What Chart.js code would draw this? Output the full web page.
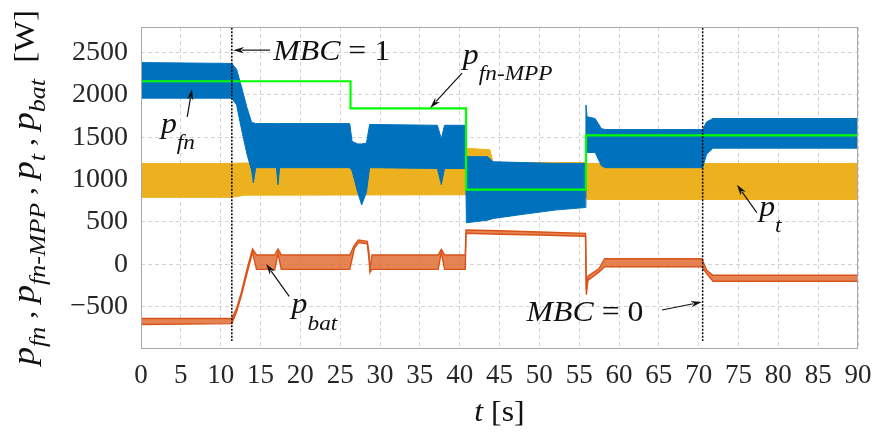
<!DOCTYPE html>
<html>
<head>
<meta charset="utf-8">
<script src="https://cdn.jsdelivr.net/npm/chart.js@4.4.1/dist/chart.umd.min.js"></script>
<style>
  html, body { margin: 0; padding: 0; background: #fff; }
  #wrap { width: 877px; height: 432px; }
</style>
</head>
<body>
<div id="wrap"><canvas id="powerChart"></canvas></div>
<script>
// axis ticks
const xTicks = [0, 5, 10, 15, 20, 25, 30, 35, 40, 45, 50, 55, 60, 65, 70, 75, 80, 85, 90];
const yTicks = [-500, 0, 500, 1000, 1500, 2000, 2500];

// p_fn (blue band, upper / lower envelope)
const fnTime  = [0, 11.4, 12.0, 12.6, 13.3, 13.9, 14.1, 14.4, 17.0, 17.2, 17.4, 26.2, 26.5, 27.2, 27.7, 28.3, 28.7, 37.2, 37.7, 38.1, 40.75, 40.85, 43.5, 44.2, 48, 52, 55.8, 55.85, 56.0, 57.0, 57.8, 58.3, 70.5, 71.0, 71.8, 90];
const fnUpper = [2380, 2370, 2300, 2100, 1850, 1670, 1670, 1660, 1660, 1660, 1660, 1660, 1450, 1420, 1420, 1430, 1650, 1640, 1480, 1640, 1640, 1270, 1270, 1210, 1200, 1190, 1190, 1880, 1740, 1720, 1600, 1590, 1590, 1680, 1720, 1720];
const fnLower = [1960, 1960, 1880, 1600, 1300, 1100, 960, 1140, 1140, 940, 1140, 1140, 1100, 850, 700, 850, 1140, 1130, 940, 1130, 1130, 490, 520, 540, 590, 640, 670, 1310, 1320, 1320, 1160, 1140, 1140, 1300, 1370, 1370];

// p_t (yellow band)
const tTime  = [0, 11.4, 13.0, 40.75, 40.85, 43.8, 44.2, 55.8, 56.0, 90];
const tUpper = [1190, 1190, 1195, 1195, 1370, 1350, 1200, 1200, 1190, 1190];
const tLower = [790, 790, 815, 820, 820, 820, 820, 790, 765, 765];

// p_bat (orange, ripple envelope)
const batTime  = [0, 11.4, 12.0, 12.6, 13.3, 14.0, 14.5, 16.8, 17.2, 17.6, 26.2, 26.8, 27.3, 28.4, 28.6, 28.75, 29.0, 37.3, 37.7, 38.1, 40.7, 40.8, 45, 50, 55.8, 55.9, 56.1, 57.5, 58.2, 70.4, 71.0, 71.8, 90];
const batUpper = [-640, -640, -520, -330, -60, 180, 110, 110, 180, 110, 110, 230, 285, 270, 150, -60, 110, 110, 175, 110, 110, 405, 395, 380, 365, -300, -140, -50, 65, 65, -70, -130, -130];
const batLower = [-710, -700, -560, -370, -110, 140, -60, -60, 130, -60, -60, 190, 255, 240, 80, -90, -60, -60, 140, -60, -60, 365, 355, 345, 330, -360, -190, -90, -30, -30, -110, -200, -200];

// p_fn-MPP reference (steps)
const mppTime  = [0, 26.3, 26.3, 40.8, 40.8, 55.85, 55.85, 90];
const mppValue = [2160, 2160, 1840, 1840, 880, 880, 1520, 1520];

// MBC switching instants [s]
const mbcTimes = [11.4, 70.5];

const FONT = '"Liberation Serif", "Times New Roman", serif';

// labels with arrows, anchored in data coordinates (t, W)
const notes = [
    { parts: [['MBC', 30, true, 0], [' = 1', 30, false, 0]], at: [16.6, 2409], tail: [16.2, 2527], tip: [11.55, 2527] },
    { parts: [['p', 30, true, 0], ['fn-MPP', 22, true, 16]], at: [40.4, 2368], tail: [40.3, 2256], tip: [36.3, 1845] },
    { parts: [['p', 30, true, 0], ['fn', 22, true, 16]], at: [2.5, 1545], tail: [5.8, 1739], tip: [6.4, 2068] },
    { parts: [['p', 30, true, 0], ['t', 22, true, 16]], at: [77.6, 568], tail: [77.3, 609], tip: [74.8, 939] },
    { parts: [['p', 30, true, 0], ['bat', 22, true, 17]], at: [18.9, -573], tail: [18.6, -379], tip: [15.7, 4] },
    { parts: [['MBC', 30, true, 0], [' = 0', 30, false, 0]], at: [48.4, -669], tail: [65.4, -540], tip: [70.4, -446] }
];

const yTitle = [
    ['p', 32, true, 0], ['fn', 23, true, 11], [' , ', 28, false, 0],
    ['p', 32, true, 0], ['fn-MPP', 23, true, 11], [' , ', 28, false, 0],
    ['p', 32, true, 0], ['t', 23, true, 11], [' , ', 28, false, 0],
    ['p', 32, true, 0], ['bat', 23, true, 11], ['  [W]', 29, false, 0]
];

function pts(ts, vs) {
    return ts.map((t, i) => ({ x: t, y: vs[i] }));
}

function setFont(ctx, size, italic) {
    ctx.font = (italic ? 'italic ' : '') + size + 'px ' + FONT;
}

function richWidth(ctx, parts) {
    let w = 0;
    parts.forEach(p => { setFont(ctx, p[1], p[2]); w += ctx.measureText(p[0]).width; });
    return w;
}

function drawRich(ctx, parts, x, y, sx) {
    ctx.save();
    ctx.translate(x, y);
    ctx.scale(sx || 1, 1);
    ctx.textBaseline = 'alphabetic';
    ctx.textAlign = 'left';
    let cx = 0;
    parts.forEach(p => {
        setFont(ctx, p[1], p[2]);
        ctx.fillText(p[0], cx, p[3]);
        cx += ctx.measureText(p[0]).width;
    });
    ctx.restore();
}

function drawArrow(ctx, x1, y1, x2, y2) {
    const ang = Math.atan2(y2 - y1, x2 - x1);
    const len = 11, half = 3.2;
    ctx.beginPath();
    ctx.moveTo(x1, y1);
    ctx.lineTo(x2 - Math.cos(ang) * len * 0.8, y2 - Math.sin(ang) * len * 0.8);
    ctx.stroke();
    ctx.beginPath();
    ctx.moveTo(x2, y2);
    ctx.lineTo(x2 - Math.cos(ang) * len + Math.sin(ang) * half, y2 - Math.sin(ang) * len - Math.cos(ang) * half);
    ctx.lineTo(x2 - Math.cos(ang) * len * 0.7, y2 - Math.sin(ang) * len * 0.7);
    ctx.lineTo(x2 - Math.cos(ang) * len - Math.sin(ang) * half, y2 - Math.sin(ang) * len + Math.cos(ang) * half);
    ctx.closePath();
    ctx.fill();
}

const overlay = {
    id: 'overlay',
    afterDraw(chart) {
        const { ctx, chartArea: a } = chart;
        const x = chart.scales.x, y = chart.scales.y;
        ctx.save();

        // plot frame
        ctx.strokeStyle = '#a8a8a8';
        ctx.lineWidth = 1;
        ctx.strokeRect(a.left + 0.5, a.top + 0.5, a.right - a.left - 1, a.bottom - a.top - 1);

        // annotations
        ctx.fillStyle = '#111';
        ctx.strokeStyle = '#111';
        ctx.lineWidth = 1.2;
        notes.forEach(n => {
            drawArrow(ctx, x.getPixelForValue(n.tail[0]), y.getPixelForValue(n.tail[1]),
                x.getPixelForValue(n.tip[0]), y.getPixelForValue(n.tip[1]));
            drawRich(ctx, n.parts, x.getPixelForValue(n.at[0]), y.getPixelForValue(n.at[1]), 1.06);
        });

        // x axis title
        const tParts = [['t', 30, true, 0], [' [s]', 30, false, 0]];
        const tw = richWidth(ctx, tParts) * 1.06;
        drawRich(ctx, tParts, (a.left + a.right) / 2 - tw / 2, 421, 1.06);

        // y axis title, rotated, stretched over the full height
        const w = richWidth(ctx, yTitle);
        ctx.translate(34, 365);
        ctx.rotate(-Math.PI / 2);
        drawRich(ctx, yTitle, 0, 0, 355 / w);
        ctx.restore();
    }
};

const blue = '#0072BD', yellow = '#EDB120', orange = '#D95319', green = '#00FF00';

const datasets = [
    { label: 'p_t low', data: pts(tTime, tLower), borderColor: yellow, borderWidth: 1, fill: false, order: 50 },
    { label: 'p_t', data: pts(tTime, tUpper), borderColor: yellow, borderWidth: 1, fill: '-1', backgroundColor: yellow, order: 50 },
    { label: 'p_fn low', data: pts(fnTime, fnLower), borderColor: blue, borderWidth: 1, fill: false, order: 40 },
    { label: 'p_fn', data: pts(fnTime, fnUpper), borderColor: blue, borderWidth: 1, fill: '-1', backgroundColor: blue, order: 40 },
    { label: 'p_fn-MPP', data: pts(mppTime, mppValue), borderColor: green, borderWidth: 2.2, fill: false, order: 30 },
    { label: 'p_bat low', data: pts(batTime, batLower), borderColor: orange, borderWidth: 1.4, fill: false, order: 20 },
    { label: 'p_bat', data: pts(batTime, batUpper), borderColor: orange, borderWidth: 1.4, fill: '-1', backgroundColor: 'rgba(224,100,40,0.8)', order: 20 }
];
mbcTimes.forEach(t => {
    datasets.push({
        label: 'MBC', data: [{ x: t, y: 2790 }, { x: t, y: -905 }],
        borderColor: '#000', borderWidth: 1.5, borderDash: [2, 1.5], fill: false, order: 10
    });
});

new Chart(document.getElementById('powerChart'), {
    type: 'line',
    data: { datasets: datasets },
    options: {
        responsive: true,
        maintainAspectRatio: false,
        animation: false,
        events: [],
        layout: { padding: { left: 50, right: 19, top: 27, bottom: 40 } },
        elements: { point: { radius: 0 }, line: { tension: 0 } },
        plugins: { legend: { display: false }, tooltip: { enabled: false } },
        scales: {
            x: {
                type: 'linear', min: 0, max: 90,
                afterBuildTicks: s => { s.ticks = xTicks.map(v => ({ value: v })); },
                afterFit: s => { s.height = 43; s.paddingLeft = 0; s.paddingRight = 0; },
                ticks: { font: { family: FONT, size: 27 }, color: '#262626', padding: 11, maxRotation: 0, autoSkip: false },
                grid: { color: '#d4d4d4', drawTicks: false },
                border: { display: false, dash: [4, 3] }
            },
            y: {
                type: 'linear', min: -1000, max: 2800,
                afterBuildTicks: s => { s.ticks = yTicks.map(v => ({ value: v })); },
                afterFit: s => { s.width = 91; s.paddingTop = 0; s.paddingBottom = 0; },
                ticks: {
                    font: { family: FONT, size: 28 }, color: '#262626', padding: 13,
                    callback: v => v < 0 ? '\u2212' + Math.abs(v) : v
                },
                grid: { color: '#d4d4d4', drawTicks: false },
                border: { display: false, dash: [4, 3] }
            }
        }
    },
    plugins: [overlay]
});
</script>
</body>
</html>
